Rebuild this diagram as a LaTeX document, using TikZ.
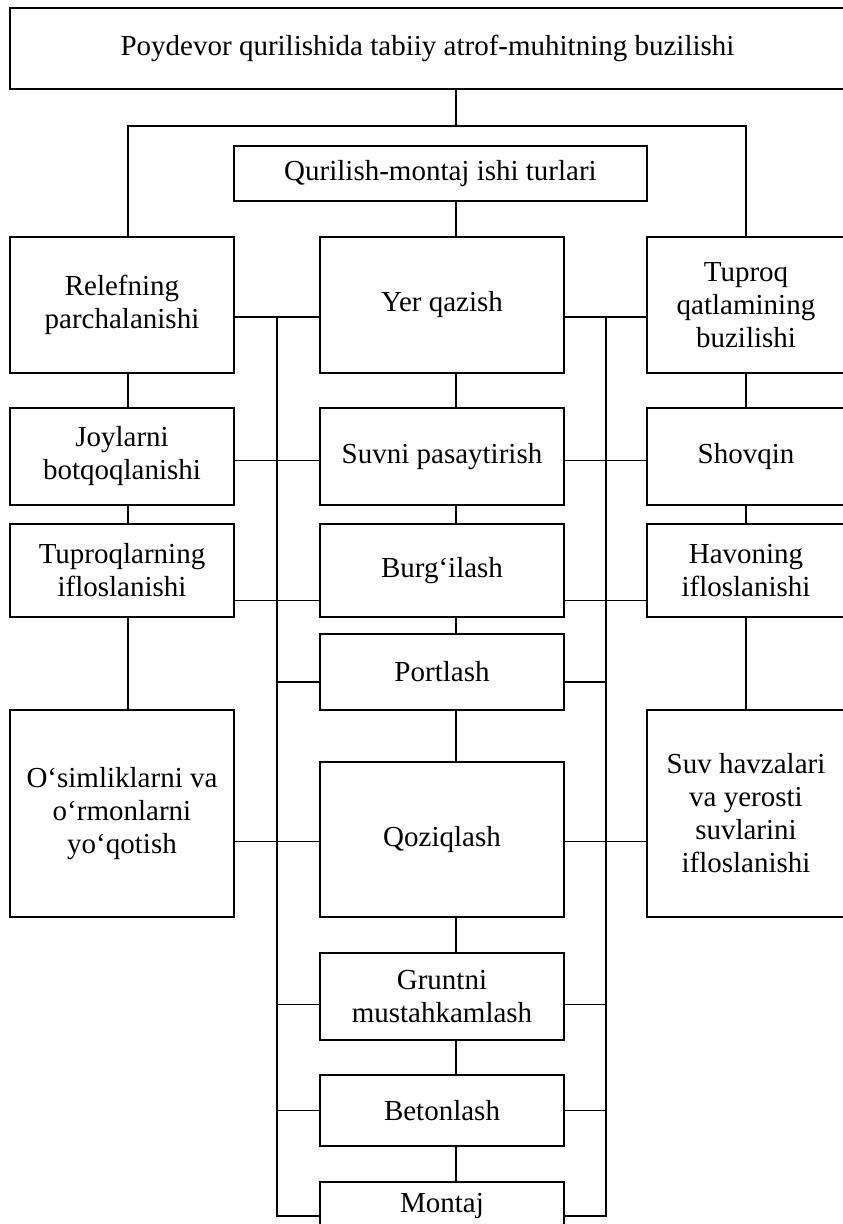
\documentclass[tikz,border=0pt]{standalone}
\usepackage{fontspec}
\setmainfont{Liberation Serif}
\usetikzlibrary{positioning,calc}

\begin{document}
\begin{tikzpicture}[
  font=\fontsize{14.5}{16.5}\selectfont,
  line width=0.7pt,
  block/.style={draw, align=center, inner sep=2pt, outer sep=0pt},
  leftcol/.style={block, minimum width=112pt},
  midcol/.style={block, minimum width=122pt},
  rightcol/.style={block, minimum width=99pt}
]
  \useasboundingbox (0,0) rectangle (421pt,-612pt);

  \node[block, minimum width=417.5pt, minimum height=40.5pt, anchor=north west] (top) at (5pt,-4pt) {Poydevor qurilishida tabiiy atrof-muhitning buzilishi};
  \node[block, minimum width=206.5pt, minimum height=27.5pt, below=28.5pt of top, xshift=6.5pt] (qur) {Qurilish-montaj ishi turlari};

  % first row
  \node[leftcol, minimum height=68pt, anchor=north west] (relef) at (5pt,-118.5pt) {Relefning\\parchalanishi};
  \node[midcol, minimum height=68pt, right=43pt of relef] (yer) {Yer qazish};
  \node[rightcol, minimum height=68pt, right=41.5pt of yer] (tup) {Tuproq\\qatlamining\\buzilishi};

  \node[leftcol, minimum height=48.5pt, below=17.5pt of relef] (joy) {Joylarni\\botqoqlanishi};
  \node[midcol, minimum height=48.5pt, below=17.5pt of yer] (suv) {Suvni pasaytirish};
  \node[rightcol, minimum height=48.5pt, below=17.5pt of tup] (shov) {Shovqin};

  \node[leftcol, minimum height=46.5pt, below=9.5pt of joy] (tupl) {Tuproqlarning\\ifloslanishi};
  \node[midcol, minimum height=46.5pt, below=9.5pt of suv] (burg) {Burg‘ilash};
  \node[rightcol, minimum height=46.5pt, below=9.5pt of shov] (hav) {Havoning\\ifloslanishi};

  \node[midcol, minimum height=38pt, below=8.5pt of burg] (port) {Portlash};
  \node[leftcol, minimum height=103.5pt, below=46.5pt of tupl] (osim) {O‘simliklarni va\\o‘rmonlarni\\yo‘qotish};
  \node[rightcol, minimum height=103.5pt, below=46.5pt of hav] (suvh) {Suv havzalari\\va yerosti\\suvlarini\\ifloslanishi};

  % lower part of the middle column
  \node[midcol, minimum height=77.5pt, below=26pt of port] (qoz) {Qoziqlash};
  \node[midcol, minimum height=43.5pt, below=18pt of qoz] (grunt) {Gruntni\\mustahkamlash};
  \node[midcol, minimum height=35.5pt, below=17.5pt of grunt] (beton) {Betonlash};
  \node[midcol, minimum height=24pt, below=18pt of beton] (montaj) {Montaj};

  \coordinate (split) at (228pt,-63pt);
  \coordinate (lspine) at (64pt,0);
  \coordinate (lbus) at (138.5pt,0);
  \coordinate (rbus) at (303pt,0);

  \draw (top.south -| split) -- (split);
  \draw ([xshift=3pt]relef.north) |- (split) -| (tup.north);
  \draw (qur.south -| split) -- (yer.north -| split);

  \foreach \a/\b in {yer/suv, suv/burg, burg/port, port/qoz, qoz/grunt, grunt/beton, beton/montaj}
    \draw (\a.south -| split) -- (\b.north -| split);
  \foreach \a/\b in {relef/joy, joy/tupl, tupl/osim}
    \draw (\a.south -| lspine) -- (\b.north -| lspine);
  \foreach \a/\b in {tup/shov, shov/hav, hav/suvh}
    \draw (\a) -- (\b);

  % links through the two buses
  \foreach \l/\m/\r/\dy in {relef/yer/tup/-6, joy/suv/shov/-2, tupl/burg/hav/-15, osim/qoz/suvh/-1} {
    \coordinate (lk-\m) at ([yshift=\dy pt]\m.west);
    \coordinate (rk-\m) at ([yshift=\dy pt]\m.east);
    \draw (lk-\m) -- (lk-\m -| \l.east);
    \draw (rk-\m) -- (rk-\m -| \r.west);
  }
  \foreach \m/\dy in {port/-5, grunt/-4, beton/0, montaj/-5} {
    \coordinate (lk-\m) at ([yshift=\dy pt]\m.west);
    \coordinate (rk-\m) at ([yshift=\dy pt]\m.east);
    \draw (lk-\m) -- (lk-\m -| lbus);
    \draw (rk-\m) -- (rk-\m -| rbus);
  }
  \draw (lk-yer -| lbus) |- (lk-montaj);
  \draw (rk-yer -| rbus) |- (rk-montaj);
\end{tikzpicture}
\end{document}
